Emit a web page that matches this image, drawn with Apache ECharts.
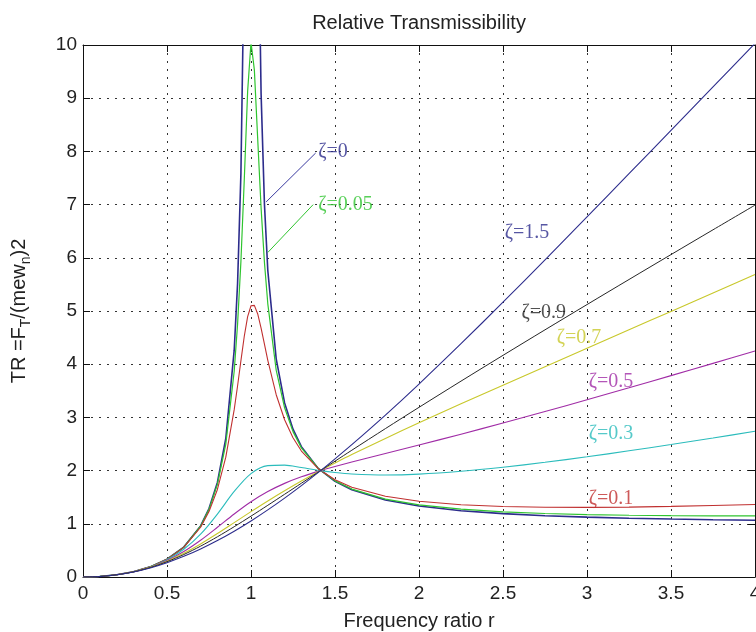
<!DOCTYPE html>
<html>
<head>
<meta charset="utf-8">
<title>Relative Transmissibility</title>
<script src="https://cdn.jsdelivr.net/npm/echarts@6/dist/echarts.min.js"></script>
<style>
  html, body { margin: 0; padding: 0; background: #fff; }
  #chart { width: 756px; height: 632px; }
</style>
</head>
<body>
<div id="chart"></div>
<script>
// Frequency ratios: a dense set around resonance for the lightly damped curves
const rFine = [0, 0.1, 0.2, 0.3, 0.4, 0.5, 0.6, 0.7, 0.75, 0.8,
  0.85, 0.9, 0.92, 0.94, 0.96, 0.98, 1.0, 1.02, 1.04, 1.06,
  1.08, 1.1, 1.15, 1.2, 1.25, 1.3, 1.4, 1.5, 1.6, 1.8,
  2.0, 2.25, 2.5, 2.75, 3.0, 3.25, 3.5, 3.75, 4.0];

// and a coarser set for the heavily damped ones
const rCoarse = [0, 0.1, 0.2, 0.3, 0.4, 0.5, 0.6, 0.7, 0.8, 0.9,
  1.0, 1.1, 1.2, 1.3, 1.4142, 1.5, 1.6, 1.8, 2.0, 2.25,
  2.5, 2.75, 3.0, 3.25, 3.5, 3.75, 4.0];

// Transmissibility ratio TR for each damping ratio (undamped case is unbounded at r = 1)
const trZeta0 = [0, 0.0101, 0.0417, 0.0989, 0.1905, 0.3333, 0.5625, 0.9608, 1.2857, 1.7778,
  2.6036, 4.2632, 5.5104, 7.5911, 11.755, 24.25, null, 25.75, 13.25, 9.0906,
  7.0096, 5.7619, 4.1008, 3.2727, 2.7778, 2.4493, 2.0417, 1.8, 1.641, 1.4464,
  1.3333, 1.2462, 1.1905, 1.1524, 1.125, 1.1046, 1.0889, 1.0766, 1.0667];
const trZeta005 = [0, 0.0101, 0.0417, 0.0989, 0.1904, 0.333, 0.5611, 0.9542, 1.2709, 1.741,
  2.4985, 3.868, 4.747, 5.933, 7.470, 9.130, 10.05, 9.532, 8.226, 6.939,
  5.914, 5.135, 3.888, 3.180, 2.733, 2.427, 2.040, 1.807, 1.653, 1.465,
  1.357, 1.275, 1.226, 1.194, 1.174, 1.161, 1.153, 1.149, 1.148];
const trZeta01 = [0, 0.0101, 0.0417, 0.0989, 0.1902, 0.3321, 0.5568, 0.9355, 1.2298, 1.6452,
  2.252, 3.145, 3.591, 4.066, 4.525, 4.894, 5.099, 5.106, 4.944, 4.680,
  4.377, 4.074, 3.426, 2.955, 2.617, 2.368, 2.035, 1.827, 1.688, 1.518,
  1.423, 1.358, 1.325, 1.311, 1.308, 1.314, 1.327, 1.344, 1.364];
const trZeta03 = [0, 0.0101, 0.0416, 0.0986, 0.1883, 0.3231, 0.5211, 0.8044, 1.1832, 1.6081,
  1.9437, 2.0933, 2.1029, 2.0581, 2.0, 1.9653, 1.9374, 1.9177, 1.9338, 1.9868,
  2.0636, 2.1563, 2.2600, 2.3718, 2.4897, 2.6122, 2.7385];
const trZeta05 = [0, 0.0101, 0.0416, 0.0981, 0.1852, 0.3101, 0.4786, 0.6906, 0.9343, 1.1847,
  1.4142, 1.6063, 1.7599, 1.8833, 2.0, 2.0774, 2.1615, 2.3217, 2.4807, 2.6841,
  2.8941, 3.1101, 3.3311, 3.5563, 3.7848, 4.0160, 4.2495];
const trZeta07 = [0, 0.0101, 0.0415, 0.0974, 0.1816, 0.2975, 0.4452, 0.6210, 0.8168, 1.0225,
  1.2289, 1.4295, 1.6211, 1.8031, 2.0, 2.1414, 2.3006, 2.6053, 2.8981, 3.2547,
  3.6056, 3.9538, 4.3005, 4.6467, 4.9925, 5.3386, 5.6846];
const trZeta09 = [0, 0.0101, 0.0415, 0.0967, 0.1782, 0.2871, 0.4221, 0.5799, 0.7559, 0.9454,
  1.1440, 1.3480, 1.5549, 1.7628, 2.0, 2.1773, 2.3828, 2.7892, 3.1892, 3.6816,
  4.1667, 4.6461, 5.1208, 5.5921, 6.0603, 6.5263, 6.9902];
const trZeta15 = [0, 0.0101, 0.0412, 0.0946, 0.1706, 0.2687, 0.3880, 0.5274, 0.6856, 0.8616,
  1.0541, 1.2618, 1.4835, 1.7180, 2.0, 2.2208, 2.4869, 3.0436, 3.6270, 4.3849,
  5.1655, 5.9618, 6.7681, 7.5808, 8.3963, 9.2133, 10.03];

// Curve labels: text, anchor (r, TR) and colour
const labelText = ['ζ=0', 'ζ=0.05', 'ζ=1.5', 'ζ=0.9', 'ζ=0.7', 'ζ=0.5', 'ζ=0.3', 'ζ=0.1'];
const labelR    = [1.40, 1.40, 2.51, 2.61, 2.82, 3.01, 3.01, 3.01];
const labelTR   = [8.0, 7.0, 6.47, 4.96, 4.49, 3.67, 2.70, 1.48];

// Leader lines from the two resonance curves to their labels
const leaderFrom = [[1.09, 7.05], [1.10, 6.10]];
const leaderTo   = [[1.385, 7.97], [1.37, 7.00]];

const C = {
  blue: '#2c2c8c', green: '#2fc42f', red: '#c03030', cyan: '#2bbcbc',
  magenta: '#a02ca6', yellow: '#c8c82a', black: '#262626'
};
const labelColor = [C.blue, C.green, C.blue, C.black, C.yellow, C.magenta, C.cyan, C.red];

const pairs = (xs, ys) => xs.map((x, i) => [x, ys[i] === null ? '-' : ys[i]]);

function curve(name, xs, ys, color, width, smooth) {
  return {
    name, type: 'line', data: pairs(xs, ys),
    showSymbol: false, symbol: 'none', connectNulls: false,
    smooth: smooth, clip: true,
    lineStyle: { color, width }, itemStyle: { color },
    silent: true, z: 3
  };
}

const FONT = 'Liberation Sans, Arial, sans-serif';
const axisLine = { show: true, onZero: false, lineStyle: { color: '#111', width: 1 } };
const tickIn = { show: true, inside: true, length: 7, lineStyle: { color: '#111' } };
const gridDots = { show: true, lineStyle: { color: '#333', width: 1, type: [2, 6] } };

const chart = echarts.init(document.getElementById('chart'), null, { renderer: 'canvas' });

const series = [
  curve('ζ=0', rFine, trZeta0, C.blue, 1.6, false),
  curve('ζ=0.05', rFine, trZeta005, C.green, 1.2, false),
  curve('ζ=0.1', rFine, trZeta01, C.red, 1.1, false),
  curve('ζ=0.3', rCoarse, trZeta03, C.cyan, 1.1, 0.3),
  curve('ζ=0.5', rCoarse, trZeta05, C.magenta, 1.1, 0.3),
  curve('ζ=0.7', rCoarse, trZeta07, C.yellow, 1.1, 0.3),
  curve('ζ=0.9', rCoarse, trZeta09, C.black, 1, 0.3),
  curve('ζ=1.5', rCoarse, trZeta15, C.blue, 1.1, 0.3)
];

leaderFrom.forEach((p, i) => {
  series.push({
    type: 'line', data: [p, leaderTo[i]], showSymbol: false, symbol: 'none',
    lineStyle: { color: i === 0 ? '#3a3aa0' : C.green, width: 1 }, silent: true, z: 4
  });
});

series.push({
  type: 'scatter', symbolSize: 0, silent: true, z: 5,
  data: labelText.map((t, i) => ({
    value: [labelR[i], labelTR[i]], name: t,
    label: { color: labelColor[i] }
  })),
  label: {
    show: true, position: 'right', distance: 0,
    formatter: p => p.name,
    fontFamily: 'Liberation Serif, Times New Roman, serif', fontSize: 20
  }
});

chart.setOption({
  animation: false,
  backgroundColor: '#fff',
  grid: { left: 83, right: 1, top: 45, bottom: 55, containLabel: false, outerBoundsMode: 'none' },
  xAxis: [
    {
      type: 'value', min: 0, max: 4, interval: 0.5, position: 'bottom',
      axisLine, axisTick: tickIn, splitLine: gridDots,
      axisLabel: { fontFamily: FONT, fontSize: 19, color: '#222', margin: 7, showMaxLabel: true },
      name: 'Frequency ratio r', nameLocation: 'middle', nameGap: 34,
      nameTextStyle: { fontFamily: FONT, fontSize: 20, color: '#222' }
    },
    {
      type: 'value', min: 0, max: 4, interval: 0.5, position: 'top',
      axisLine, axisTick: tickIn, splitLine: { show: false }, axisLabel: { show: false },
      name: 'Relative Transmissibility', nameLocation: 'middle', nameGap: 12,
      nameTextStyle: { fontFamily: FONT, fontSize: 20, color: '#222' }
    }
  ],
  yAxis: [
    {
      type: 'value', min: 0, max: 10, interval: 1, position: 'left',
      axisLine, axisTick: tickIn, splitLine: gridDots,
      axisLabel: { fontFamily: FONT, fontSize: 19, color: '#222', margin: 6 },
      name: '{n|TR =F}{s|T}{n|/(mew}{s|n}{n|)2}',
      nameLocation: 'middle', nameGap: 50, nameRotate: 90,
      nameTextStyle: {
        fontFamily: FONT, color: '#222',
        rich: {
          n: { fontFamily: FONT, fontSize: 20, color: '#222', lineHeight: 28, verticalAlign: 'middle' },
          s: { fontFamily: FONT, fontSize: 14, color: '#222', lineHeight: 14, verticalAlign: 'bottom' }
        }
      }
    },
    {
      type: 'value', min: 0, max: 10, interval: 1, position: 'right',
      axisLine, axisTick: tickIn, splitLine: { show: false }, axisLabel: { show: false }
    }
  ],
  series
});
</script>
</body>
</html>
